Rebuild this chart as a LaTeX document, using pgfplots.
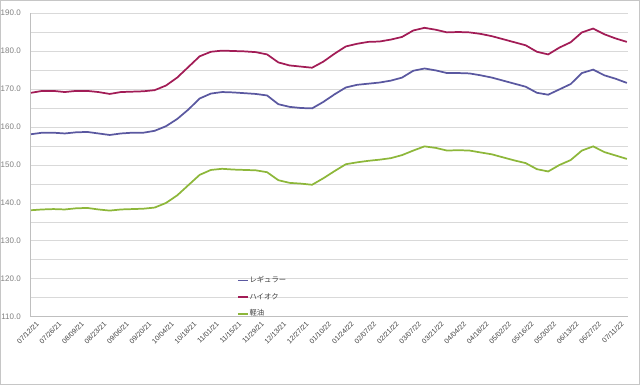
\documentclass[border=0pt]{standalone}
\usepackage{pgfplots}
\pgfplotsset{compat=1.18}
\usepackage{pgfplotstable}
\usepackage{fontspec}
\setmainfont{Liberation Sans}
\newfontfamily\cjk{Noto Sans CJK JP}
\definecolor{reg}{RGB}{90,88,160}
\definecolor{hi}{RGB}{162,28,86}
\definecolor{dsl}{RGB}{141,183,58}
\definecolor{gridc}{RGB}{217,217,217}
\definecolor{axc}{RGB}{191,191,191}
\definecolor{ylab}{RGB}{128,128,128}
\definecolor{xlab}{RGB}{64,64,64}

\pgfplotstableread{
i reg hi dsl
0 158.1 169.0 138.1
1 158.5 169.5 138.3
2 158.5 169.5 138.4
3 158.3 169.2 138.3
4 158.6 169.5 138.6
5 158.7 169.5 138.7
6 158.3 169.2 138.3
7 157.9 168.7 138.0
8 158.3 169.2 138.3
9 158.5 169.3 138.4
10 158.5 169.4 138.5
11 159.0 169.7 138.8
12 160.2 170.9 140.0
13 162.1 173.0 142.0
14 164.6 175.8 144.7
15 167.5 178.6 147.4
16 168.8 179.8 148.7
17 169.2 180.1 149.0
18 169.1 180.0 148.8
19 168.9 179.9 148.7
20 168.7 179.7 148.6
21 168.3 179.1 148.1
22 166.0 177.0 146.0
23 165.3 176.2 145.3
24 165.0 175.9 145.1
25 164.9 175.6 144.8
26 166.6 177.2 146.5
27 168.6 179.3 148.4
28 170.4 181.2 150.2
29 171.1 181.9 150.7
30 171.4 182.4 151.1
31 171.7 182.5 151.4
32 172.2 183.0 151.8
33 173.0 183.7 152.6
34 174.8 185.4 153.8
35 175.4 186.1 154.9
36 174.9 185.6 154.5
37 174.2 184.9 153.8
38 174.2 185.0 153.9
39 174.1 184.9 153.8
40 173.6 184.5 153.3
41 173.0 183.9 152.8
42 172.2 183.1 152.0
43 171.4 182.3 151.2
44 170.6 181.5 150.5
45 169.0 179.8 148.9
46 168.5 179.1 148.3
47 169.9 180.9 150.0
48 171.3 182.3 151.3
49 174.2 184.9 153.8
50 175.1 185.9 154.9
51 173.6 184.4 153.4
52 172.7 183.3 152.5
53 171.6 182.4 151.6
}\data

\begin{document}
\begin{tikzpicture}
\path[use as bounding box] (0,0) rectangle (480pt,288.75pt);
\draw[gray!45, line width=0.75pt] (0.375pt,0.375pt) rectangle (479.625pt,288.375pt);
\begin{axis}[
  at={(23.25pt,51pt)}, anchor=south west,
  scale only axis, width=447.75pt, height=228pt,
  xmin=0, xmax=53.1, ymin=110, ymax=190,
  axis x line*=bottom, axis y line*=left,
  axis line style={axc, line width=0.75pt, -},
  ytick={110,120,...,190},
  minor ytick={115,125,...,185},
  ymajorgrids, yminorgrids,
  major grid style={gridc, line width=0.75pt},
  minor grid style={gridc, line width=0.75pt},
  major tick length=0pt, minor tick length=0pt,
  xtick={0,2,...,52},
  xticklabels={07/12/21,07/26/21,08/09/21,08/23/21,09/06/21,09/20/21,10/04/21,10/18/21,11/01/21,11/15/21,11/29/21,12/13/21,12/27/21,01/10/22,01/24/22,02/07/22,02/21/22,03/07/22,03/21/22,04/04/22,04/18/22,05/02/22,05/16/22,05/30/22,06/13/22,06/27/22,07/11/22},
  xticklabel style={font=\fontsize{5.3}{6}\selectfont, text=xlab, rotate=45, anchor=north east, inner sep=0pt, yshift=-4.5pt, xshift=0.6pt},
  yticklabel style={font=\fontsize{6}{7}\selectfont, text=ylab, inner sep=0pt, xshift=-7.5pt},
  /pgf/number format/.cd, fixed, fixed zerofill, precision=1, assume math mode=true,
  /pgfplots/.cd,
  legend style={at={(axis cs:18.3,121.0)}, anchor=north west, draw=none, fill=none,
    font=\cjk\fontsize{5.5}{6.5}\selectfont, text=xlab, row sep=5.3pt, inner sep=0pt,
    nodes={inner sep=0.6pt}},
  legend cell align=left,
  legend image code/.code={\draw[#1] (0pt,0pt)--(7.5pt,0pt);},
]
\addplot[reg, line width=1.3pt] table[x=i, y=reg]{\data};
\addlegendentry{レギュラー}
\addplot[hi, line width=1.3pt] table[x=i, y=hi]{\data};
\addlegendentry{ハイオク}
\addplot[dsl, line width=1.3pt] table[x=i, y=dsl]{\data};
\addlegendentry{軽油}
\end{axis}
\end{tikzpicture}
\end{document}
